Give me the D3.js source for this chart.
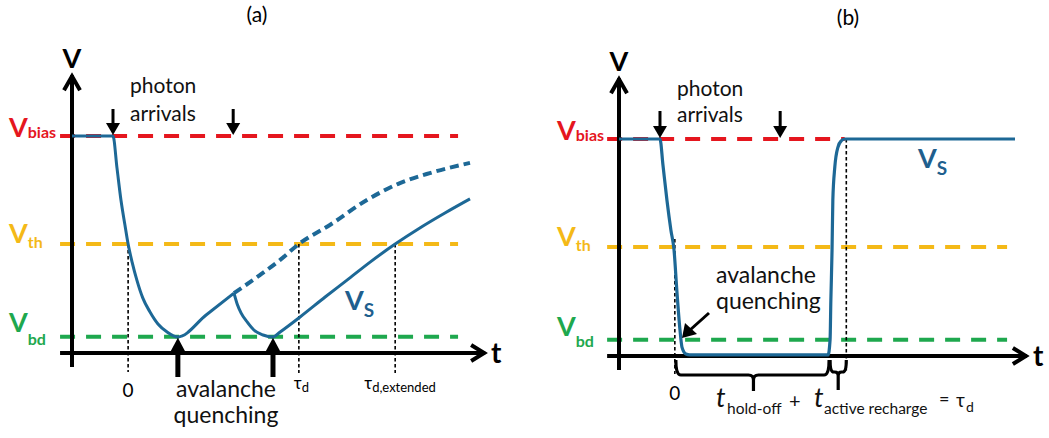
<!DOCTYPE html>
<html>
<head>
<meta charset="utf-8">
<script src="https://cdn.jsdelivr.net/npm/d3@7"></script>
<style>
  body { margin: 0; background: #fff; }
  svg { display: block; }
  text { font-family: Lato, "Open Sans", sans-serif; }
</style>
</head>
<body>
<svg id="chart" width="1049" height="438"></svg>
<script>
// Reference voltage levels, as a fraction of V_bias above the time axis
const levelNames  = ["bias", "th", "bd"];
const levelValues = [1.0, 0.502, 0.075];

// (a) passive quenching: first avalanche, fall and start of recharge
const aPulse1T = [0, 10.3, 11.3, 12.3, 13.3, 14.1, 15.1, 16.3, 17.8, 19.6, 21.6, 23.9, 26.6, 33.7, 40.7];
const aPulse1V = [1, 1, 0.853, 0.705, 0.590, 0.502, 0.419, 0.336, 0.253, 0.189, 0.134, 0.097, 0.074, 0.175, 0.276];
// (a) recharge if no second photon arrived
const aFreeT = [40.7, 47.2, 52.3, 57.0, 64.8, 74.1, 82.4, 89.9, 100];
const aFreeV = [0.276, 0.359, 0.429, 0.502, 0.590, 0.705, 0.783, 0.829, 0.876];
// (a) second avalanche during recharge and the extended recovery
const aPulse2T = [40.7, 41.5, 42.5, 44.0, 45.7, 48.0, 50.5, 52.3, 57.3, 63.6, 69.1, 74.9, 81.2, 87.4, 93.7, 100];
const aPulse2V = [0.276, 0.226, 0.184, 0.143, 0.106, 0.083, 0.074, 0.097, 0.166, 0.258, 0.336, 0.419, 0.502, 0.576, 0.645, 0.710];
const aPhotonT = [10.3, 40.5];
const aQuenchT = [26.6, 50.5];
const aZeroT = 14.1, aDeadT = 57.0, aDeadExtT = 81.2;

// (b) active quenching and active recharge
const bPulseT = [0, 10.35, 11.1, 12.1, 13.1, 13.9, 14.6, 15.4, 15.9, 16.9, 17.9, 52.8, 53.3, 53.5, 53.8, 54.0, 54.5, 55.3, 56.1, 57.1, 100];
const bPulseV = [1, 1, 0.880, 0.719, 0.581, 0.488, 0.304, 0.120, 0.041, 0.009, 0.005, 0.005, 0.074, 0.258, 0.488, 0.719, 0.871, 0.963, 0.991, 1.0, 1.0];
const bPhotonT = [10.35, 40.7];
const bZeroT = 14.1, bHoldEndT = 52.8, bDeadT = 57.4;

const C = { bias: "#e5161e", th: "#f4b917", bd: "#1ea84e", line: "#1d6896", vs: "#1f5f8e", ink: "#000" };

const svg = d3.select("#chart");
const zip = (t, v) => t.map((d, i) => [d, v[i]]);

function panel(opt) {
  const x = d3.scaleLinear().domain([0, 100]).range(opt.xr);
  const y = d3.scaleLinear().domain([0, 1]).range(opt.yr);
  const g = svg.append("g");
  const line = d3.line().x(d => x(d[0])).y(d => y(d[1])).curve(d3.curveMonotoneX);
  return { x, y, g, line };
}

function axes(p, tEnd, vTop) {
  const { x, y, g } = p;
  const ln = (d) => g.append("path").attr("d", d).attr("stroke", C.ink)
    .attr("stroke-width", 4).attr("fill", "none");
  // vertical axis with chevron head
  ln(`M${x(0)},${y(-0.065)}V${y(vTop)}`);
  ln(`M${x(0) - 8},${y(vTop) + 15}L${x(0)},${y(vTop) + 1}L${x(0) + 8},${y(vTop) + 15}`);
  // time axis with chevron head
  ln(`M${x(-3)},${y(0)}H${x(tEnd)}`);
  ln(`M${x(tEnd) - 14},${y(0) - 8}L${x(tEnd) - 1},${y(0)}L${x(tEnd) - 14},${y(0) + 8}`);
  g.append("text").attr("x", x(0)).attr("y", y(vTop) - 7).attr("text-anchor", "middle")
    .attr("font-size", 27).attr("font-weight", 700).text("V");
  g.append("text").attr("x", x(tEnd) + 6).attr("y", y(0) + 10).attr("font-size", 28)
    .attr("font-weight", 700).text("t");
}

function levels(p, ends, labelX, offs) {
  const { x, y, g } = p;
  levelNames.forEach((k, i) => {
    g.append("line").attr("x1", x(-3)).attr("x2", x(ends[i]))
      .attr("y1", y(levelValues[i])).attr("y2", y(levelValues[i]))
      .attr("stroke", C[k]).attr("stroke-width", 4).attr("stroke-dasharray", "15,11");
    const t = g.append("text").attr("x", labelX).attr("y", y(levelValues[i]) + offs[i][0])
      .attr("fill", C[k]).attr("font-weight", 700);
    t.append("tspan").attr("font-size", 27).text("V");
    t.append("tspan").attr("font-size", 16).attr("dy", offs[i][1]).text(k);
  });
}

function downArrow(g, cx, yTip, len) {
  g.append("line").attr("x1", cx).attr("x2", cx).attr("y1", yTip - len).attr("y2", yTip - 10)
    .attr("stroke", C.ink).attr("stroke-width", 3);
  g.append("path").attr("d", `M${cx - 7},${yTip - 12}L${cx + 7},${yTip - 12}L${cx},${yTip}Z`).attr("fill", C.ink);
}

function upArrow(g, cx, yTip, yBase) {
  g.append("line").attr("x1", cx).attr("x2", cx).attr("y1", yBase).attr("y2", yTip + 12)
    .attr("stroke", C.ink).attr("stroke-width", 5);
  g.append("path").attr("d", `M${cx - 8},${yTip + 15}L${cx + 8},${yTip + 15}L${cx},${yTip}Z`).attr("fill", C.ink);
}

function dotted(g, xp, y1, y2) {
  g.append("line").attr("x1", xp).attr("x2", xp).attr("y1", y1).attr("y2", y2)
    .attr("stroke", C.ink).attr("stroke-width", 1.6).attr("stroke-dasharray", "3.5,2.5");
}

function vsLabel(g, xp, yp) {
  const t = g.append("text").attr("x", xp).attr("y", yp).attr("fill", C.vs).attr("font-weight", 700);
  t.append("tspan").attr("font-size", 27).text("V");
  t.append("tspan").attr("font-size", 19).attr("dy", 7).text("S");
}

// ---------- (a) ----------
{
  const p = panel({ xr: [72, 470], yr: [353, 136] });
  const { x, y, g, line } = p;
  svg.append("text").attr("x", 257).attr("y", 22).attr("text-anchor", "middle").attr("font-size", 21).text("(a)");

  levels(p, [97, 97, 97], 9, [[1, 1], [-1, 5], [-5, 13]]);

  dotted(g, x(aZeroT), y(levelValues[1]), 372);
  dotted(g, x(aDeadT), y(levelValues[1]), 373);
  dotted(g, x(aDeadExtT), y(levelValues[1]), 373);

  axes(p, 103.8, 1.28);

  g.append("path").attr("d", line(zip(aFreeT, aFreeV))).attr("fill", "none")
    .attr("stroke", C.line).attr("stroke-width", 4).attr("stroke-dasharray", "9,5");
  [zip(aPulse1T, aPulse1V), zip(aPulse2T, aPulse2V)].forEach(d =>
    g.append("path").attr("d", line(d)).attr("fill", "none")
      .attr("stroke", C.line).attr("stroke-width", 3).attr("stroke-linejoin", "round"));

  aPhotonT.forEach(t => downArrow(g, x(t), y(1) - 1, 26));
  aQuenchT.forEach(t => upArrow(g, x(t), y(levelValues[2]) + 1, 377));

  const ph = g.append("text").attr("font-size", 21).attr("fill", "#111");
  ph.append("tspan").attr("x", 130).attr("y", 93).text("photon");
  ph.append("tspan").attr("x", 130).attr("y", 121).text("arrivals");

  g.append("text").attr("x", 226).attr("y", 397).attr("text-anchor", "middle")
    .attr("font-size", 23).attr("fill", "#111").text("avalanche");
  g.append("text").attr("x", 226).attr("y", 423).attr("text-anchor", "middle")
    .attr("font-size", 23).attr("fill", "#111").text("quenching");

  g.append("text").attr("x", x(aZeroT)).attr("y", 397).attr("text-anchor", "middle").attr("font-size", 19).text("0");
  const td = g.append("text").attr("x", x(aDeadT) - 5).attr("y", 389).attr("font-size", 17);
  td.append("tspan").text("τ");
  td.append("tspan").attr("font-size", 13).attr("dy", 3).text("d");
  const te = g.append("text").attr("x", x(aDeadExtT) - 31).attr("y", 389).attr("font-size", 17);
  te.append("tspan").text("τ");
  te.append("tspan").attr("font-size", 13).attr("dy", 3).text("d,extended");

  vsLabel(g, 345, 310);
}

// ---------- (b) ----------
{
  const p = panel({ xr: [619, 1015], yr: [356, 139] });
  const { x, y, g, line } = p;
  svg.append("text").attr("x", 848).attr("y", 25).attr("text-anchor", "middle").attr("font-size", 21).text("(b)");

  levels(p, [57, 98, 98], 557, [[1, 1], [-1, 5], [-4, 11]]);

  dotted(g, x(bZeroT), y(levelValues[1]) - 8, 374);
  dotted(g, x(bDeadT), y(1), 373);

  axes(p, 103, 1.28);

  g.append("path").attr("d", line(zip(bPulseT, bPulseV))).attr("fill", "none")
    .attr("stroke", C.line).attr("stroke-width", 3.2).attr("stroke-linejoin", "round");

  bPhotonT.forEach(t => downArrow(g, x(t), y(1) - 1, 27));

  const ph = g.append("text").attr("font-size", 21).attr("fill", "#111");
  ph.append("tspan").attr("x", 677).attr("y", 96).text("photon");
  ph.append("tspan").attr("x", 677).attr("y", 122).text("arrivals");

  g.append("text").attr("x", 716).attr("y", 283).attr("font-size", 23).attr("fill", "#111").text("avalanche");
  g.append("text").attr("x", 716).attr("y", 309).attr("font-size", 23).attr("fill", "#111").text("quenching");

  // pointer to the quenched node voltage
  g.append("line").attr("x1", 709).attr("y1", 313).attr("x2", 690).attr("y2", 330)
    .attr("stroke", C.ink).attr("stroke-width", 3);
  g.append("path").attr("d", "M682,338L685,323L697,334Z").attr("fill", C.ink);

  // braces for hold-off and active recharge intervals
  const brace = (x0, x1, xm, yTop, yLine, yTip, r) =>
    `M${x0},${yTop}Q${x0},${yLine} ${x0 + r},${yLine}H${xm - r}Q${xm},${yLine} ${xm},${yLine + r}V${yTip}` +
    `M${xm},${yLine + r}Q${xm},${yLine} ${xm + r},${yLine}H${x1 - r}Q${x1},${yLine} ${x1},${yTop}`;
  g.append("path").attr("d", brace(x(bZeroT) + 1, x(bHoldEndT) + 1, x((bZeroT + bHoldEndT) / 2) + 2, 360, 375, 391, 5))
    .attr("fill", "none").attr("stroke", C.ink).attr("stroke-width", 3.2);
  g.append("path").attr("d", brace(x(bHoldEndT) + 2, x(bDeadT), x((bHoldEndT + bDeadT) / 2) + 1, 360, 372, 390, 3.5))
    .attr("fill", "none").attr("stroke", C.ink).attr("stroke-width", 3.2);

  g.append("text").attr("x", x(bZeroT)).attr("y", 400).attr("text-anchor", "middle").attr("font-size", 19).text("0");

  // t_hold-off + t_active recharge = tau_d
  const piece = (xp, yp, size, str, italic) => g.append("text").attr("x", xp).attr("y", yp)
    .attr("font-size", size).attr("fill", "#111").attr("font-style", italic ? "italic" : "normal").text(str);
  piece(716, 407, 27, "t", true);
  piece(727, 414, 15.5, "hold-off");
  piece(789, 408, 20, "+");
  piece(814, 407, 27, "t", true);
  piece(824, 414, 15.5, "active recharge");
  piece(939, 405, 18, "=");
  piece(956, 407, 19, "τ");
  piece(966, 412, 14, "d");

  vsLabel(g, 918, 168);
}
</script>
</body>
</html>
